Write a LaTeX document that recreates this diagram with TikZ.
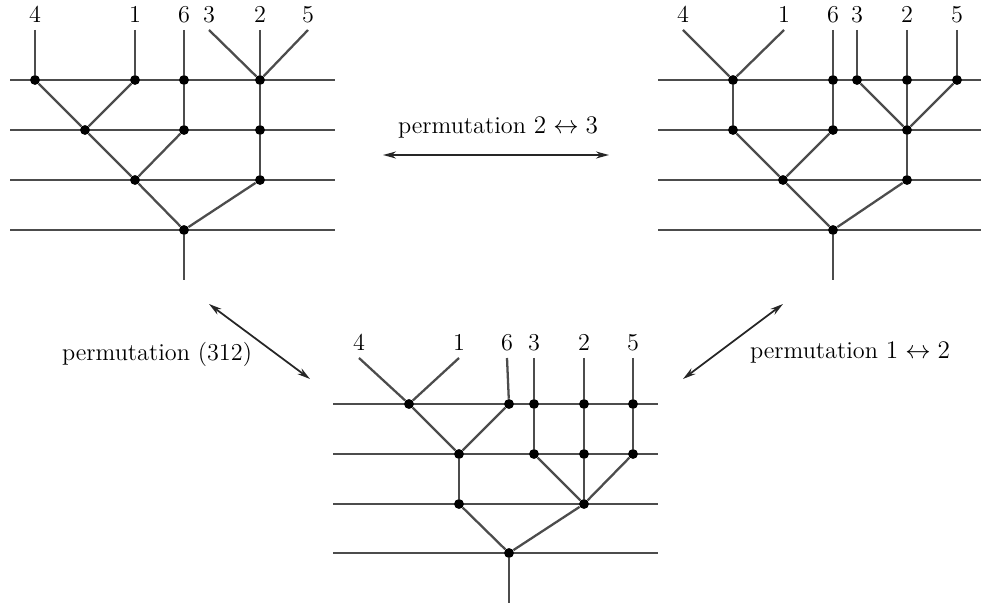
\documentclass[tikz,border=0pt]{standalone}
\usepackage{amsmath}
\usepackage{tikz}
\usetikzlibrary{positioning,arrows.meta}

\begin{document}
\begin{tikzpicture}[
x=0.02cm, y=-0.02cm,
strand/.style={draw=black!70, line width=1.3pt},
dot/.style={circle, fill=black, inner sep=0pt, minimum size=5.6pt},
leaf/.style={font=\fontsize{13.8}{16}\selectfont, inner sep=1pt},
caption/.style={font=\fontsize{13.8}{16}\selectfont, inner sep=1pt},
perm/.style={{Stealth[length=2.6mm,width=1.4mm]}-{Stealth[length=2.6mm,width=1.4mm]}, line width=1pt, black!85}
]
\useasboundingbox (0,0) rectangle (981,607);

% levels
\foreach \y in {80,130,180,230} \draw[strand] (10,\y) -- (335,\y);
\foreach \y in {80,130,180,230} \draw[strand] (658,\y) -- (981,\y);
\foreach \y in {404,454,504,553} \draw[strand] (333,\y) -- (658,\y);

% left tree
\node[dot] (a1) at (35,80) {};
\node[dot] (a2) at (135,80) {};
\node[dot] (a3) at (184,80) {};
\node[dot] (a4) at (260,80) {};
\node[dot] (a5) at (85,130) {};
\node[dot] (a6) at (184,130) {};
\node[dot] (a7) at (260,130) {};
\node[dot] (a8) at (135,180) {};
\node[dot] (a9) at (260,180) {};
\node[dot] (a10) at (184,230) {};
\coordinate (aroot) at (184,280);
\coordinate (a-4) at (35,30);
\coordinate (a-1) at (135,30);
\coordinate (a-6) at (184,30);
\coordinate (a-3) at (209,30);
\coordinate (a-2) at (260,30);
\coordinate (a-5) at (308,30);
\node[leaf, above=3pt of a-4] (la4) {4};
\node[leaf, above=3pt of a-1] (la1) {1};
\node[leaf, above=3pt of a-6] (la6) {6};
\node[leaf, above=3pt of a-3] (la3) {3};
\node[leaf, above=3pt of a-2] (la2) {2};
\node[leaf, above=3pt of a-5] (la5) {5};
\draw[strand] (a-4) -- (a1);
\draw[strand] (a-1) -- (a2);
\draw[strand] (a-6) -- (a3);
\draw[strand] (a-3) -- (a4);
\draw[strand] (a-2) -- (a4);
\draw[strand] (a-5) -- (a4);
\draw[strand] (a1) -- (a5);
\draw[strand] (a2) -- (a5);
\draw[strand] (a3) -- (a6);
\draw[strand] (a4) -- (a7);
\draw[strand] (a5) -- (a8);
\draw[strand] (a6) -- (a8);
\draw[strand] (a7) -- (a9);
\draw[strand] (a8) -- (a10);
\draw[strand] (a9) -- (a10);
\draw[strand] (a10) -- (aroot);

% right tree
\node[dot] (b1) at (733,80) {};
\node[dot] (b2) at (833,80) {};
\node[dot] (b3) at (857,80) {};
\node[dot] (b4) at (907,80) {};
\node[dot] (b5) at (957,80) {};
\node[dot] (b6) at (733,130) {};
\node[dot] (b7) at (833,130) {};
\node[dot] (b8) at (907,130) {};
\node[dot] (b9) at (783,180) {};
\node[dot] (b10) at (907,180) {};
\node[dot] (b11) at (833,230) {};
\coordinate (broot) at (833,280);
\coordinate (b-4) at (683,30);
\coordinate (b-1) at (784,30);
\coordinate (b-6) at (833,30);
\coordinate (b-3) at (857,30);
\coordinate (b-2) at (907,30);
\coordinate (b-5) at (957,30);
\node[leaf, above=3pt of b-4] (lb4) {4};
\node[leaf, above=3pt of b-1] (lb1) {1};
\node[leaf, above=3pt of b-6] (lb6) {6};
\node[leaf, above=3pt of b-3] (lb3) {3};
\node[leaf, above=3pt of b-2] (lb2) {2};
\node[leaf, above=3pt of b-5] (lb5) {5};
\draw[strand] (b-4) -- (b1);
\draw[strand] (b-1) -- (b1);
\draw[strand] (b-6) -- (b2);
\draw[strand] (b-3) -- (b3);
\draw[strand] (b-2) -- (b4);
\draw[strand] (b-5) -- (b5);
\draw[strand] (b1) -- (b6);
\draw[strand] (b2) -- (b7);
\draw[strand] (b3) -- (b8);
\draw[strand] (b4) -- (b8);
\draw[strand] (b5) -- (b8);
\draw[strand] (b6) -- (b9);
\draw[strand] (b7) -- (b9);
\draw[strand] (b8) -- (b10);
\draw[strand] (b9) -- (b11);
\draw[strand] (b10) -- (b11);
\draw[strand] (b11) -- (broot);

% bottom tree
\node[dot] (c1) at (409,404) {};
\node[dot] (c2) at (509,404) {};
\node[dot] (c3) at (534,404) {};
\node[dot] (c4) at (584,404) {};
\node[dot] (c5) at (633,404) {};
\node[dot] (c6) at (459,454) {};
\node[dot] (c7) at (534,454) {};
\node[dot] (c8) at (584,454) {};
\node[dot] (c9) at (633,454) {};
\node[dot] (c10) at (459,504) {};
\node[dot] (c11) at (584,504) {};
\node[dot] (c12) at (509,553) {};
\coordinate (croot) at (509,603);
\coordinate (c-4) at (359,358);
\coordinate (c-1) at (459,358);
\coordinate (c-6) at (507,358);
\coordinate (c-3) at (534,358);
\coordinate (c-2) at (584,358);
\coordinate (c-5) at (633,358);
\node[leaf, above=3pt of c-4] (lc4) {4};
\node[leaf, above=3pt of c-1] (lc1) {1};
\node[leaf, above=3pt of c-6] (lc6) {6};
\node[leaf, above=3pt of c-3] (lc3) {3};
\node[leaf, above=3pt of c-2] (lc2) {2};
\node[leaf, above=3pt of c-5] (lc5) {5};
\draw[strand] (c-4) -- (c1);
\draw[strand] (c-1) -- (c1);
\draw[strand] (c-6) -- (c2);
\draw[strand] (c-3) -- (c3);
\draw[strand] (c-2) -- (c4);
\draw[strand] (c-5) -- (c5);
\draw[strand] (c1) -- (c6);
\draw[strand] (c2) -- (c6);
\draw[strand] (c3) -- (c7);
\draw[strand] (c4) -- (c8);
\draw[strand] (c5) -- (c9);
\draw[strand] (c6) -- (c10);
\draw[strand] (c7) -- (c11);
\draw[strand] (c8) -- (c11);
\draw[strand] (c9) -- (c11);
\draw[strand] (c10) -- (c12);
\draw[strand] (c11) -- (c12);
\draw[strand] (c12) -- (croot);

% permutations
\coordinate (p1) at (383,155);
\coordinate (p2) at (609,155);
\coordinate (q1) at (209,304);
\coordinate (q2) at (310,379);
\coordinate (r1) at (783,304);
\coordinate (r2) at (683,379);
\draw[perm] (p1) -- (p2);
\draw[perm] (q1) -- (q2);
\draw[perm] (r1) -- (r2);
\node[caption] (t23) at (498,128) {permutation $2\leftrightarrow3$};
\node[caption] (t312) at (157,354) {permutation (312)};
\node[caption] (t12) at (850,353) {permutation $1\leftrightarrow2$};
\end{tikzpicture}
\end{document}
